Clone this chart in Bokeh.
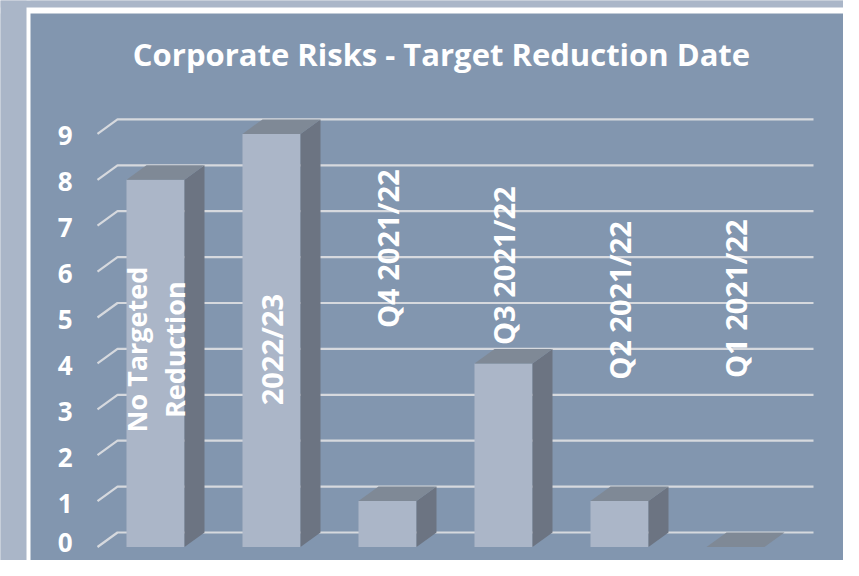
from bokeh.plotting import figure
from bokeh.models import Range1d, BoxAnnotation, ColumnDataSource
from bokeh.core.properties import value
from bokeh.embed import file_html
from bokeh.resources import INLINE

# ---- data ----
categories = ["No Targeted Reduction", "2022/23", "Q4 2021/22", "Q3 2021/22", "Q2 2021/22", "Q1 2021/22"]
labels = ["No Targeted\nReduction", "2022/23", "Q4 2021/22", "Q3 2021/22", "Q2 2021/22", "Q1 2021/22"]
counts = [8, 9, 1, 4, 1, 0]
y_ticks = [0, 1, 2, 3, 4, 5, 6, 7, 8, 9]
title_text = "Corporate Risks - Target Reduction Date"

# ---- layout (pixel geometry -> data units) ----
W, H = 843, 560
X0_PX, UNIT_X = 97.0, 116.0      # x of front-left wall, px per category
Y0_PX, UNIT_Y = 546.5, 45.9      # y of value 0 (front), px per unit

def px2x(px):
    return (px - X0_PX) / UNIT_X

def px2y(py):
    return (Y0_PX - py) / UNIT_Y

DX = 20.0 / UNIT_X                 # depth offset (x)
DY = 14.5 / UNIT_Y                 # depth offset (y)
BAR_W = 0.5
label_y = [4.30, 4.30, 6.50, 6.13, 5.37, 5.41]   # label centre positions (value units)
label_fs = ["27px", "29px", "29px", "29px", "29px", "29px"]

PANEL = "#8296af"
OUTER = "#aab6c8"
FRONT = "#abb6c8"
SIDE = "#6c7482"
TOP = "#7f8996"
GRID = "#d6d9de"
FONT = "Open Sans"

p = figure(width=W, height=H, output_backend="svg", toolbar_location=None,
           x_range=Range1d(px2x(0), px2x(W)), y_range=Range1d(px2y(H), px2y(0)),
           x_axis_type=None, y_axis_type=None, min_border=0,
           min_border_left=0, min_border_right=0, min_border_top=0, min_border_bottom=0,
           background_fill_color=PANEL, border_fill_color=PANEL, outline_line_color=None)
p.grid.visible = False

# frame decoration
p.add_layout(BoxAnnotation(right=px2x(30), fill_color="white", fill_alpha=1, line_color=None, level="underlay"))
p.add_layout(BoxAnnotation(bottom=px2y(13), fill_color="white", fill_alpha=1, line_color=None, level="underlay"))
p.add_layout(BoxAnnotation(right=px2x(26), fill_color=OUTER, fill_alpha=1, line_color=None, level="underlay"))
p.add_layout(BoxAnnotation(bottom=px2y(7), fill_color=OUTER, fill_alpha=1, line_color=None, level="underlay"))

n = len(categories)

# gridlines (left wall diagonal + back wall)
gx = [[0, DX, n + DX] for _ in y_ticks]
gy = [[t, t + DY, t + DY] for t in y_ticks]
p.multi_line(gx, gy, line_color=GRID, line_width=2.2)

# bars
x_left = [i + (1 - BAR_W) / 2 for i in range(n)]
x_right = [xl + BAR_W for xl in x_left]
p.quad(left=x_left, right=x_right, bottom=[0] * n, top=counts,
       fill_color=FRONT, line_color=None)
side_xs = [[xr, xr + DX, xr + DX, xr] for xr in x_right]
side_ys = [[0, DY, c + DY, c] for c in counts]
p.patches(side_xs, side_ys, fill_color=SIDE, line_color=None)
top_xs = [[xl, xl + DX, xr + DX, xr] for xl, xr in zip(x_left, x_right)]
top_ys = [[c, c + DY, c + DY, c] for c in counts]
p.patches(top_xs, top_ys, fill_color=TOP, line_color=None)

# category labels (rotated)
lab_src = ColumnDataSource(dict(x=[i + 0.5 for i in range(n)], y=label_y, text=labels, fs=label_fs))
p.text(x="x", y="y", text="text", source=lab_src, angle=1.5707963,
       text_align="center", text_baseline="middle", text_color="white",
       text_font=value(FONT), text_font_style="bold", text_font_size="fs",
       text_line_height=1.05)

# y tick labels (kept inside the canvas at the bottom edge)
TICK_FS = 26
tick_y = [px2y(min(Y0_PX - t * UNIT_Y + 2, H - 0.70 * TICK_FS)) for t in y_ticks]
p.text(x=[px2x(72)] * len(y_ticks), y=tick_y, text=[str(t) for t in y_ticks],
       text_align="right", text_baseline="middle", text_color="white",
       text_font=value(FONT), text_font_style="bold", text_font_size=f"{TICK_FS}px")

# title
p.text(x=[px2x(441)], y=[px2y(53)], text=[title_text],
       text_align="center", text_baseline="alphabetic", text_color="white",
       text_font=value(FONT), text_font_style="bold", text_font_size="31px")

open("out.html", "w").write(file_html(p, INLINE))
